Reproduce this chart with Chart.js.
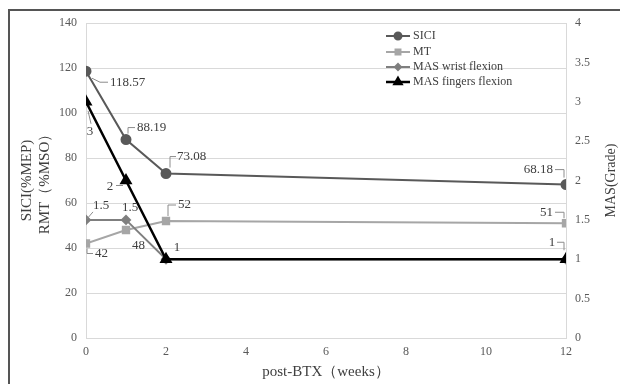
<!DOCTYPE html>
<html>
<head>
<meta charset="utf-8">
<script src="https://cdn.jsdelivr.net/npm/chart.js@4/dist/chart.umd.min.js"></script>
<style>
  html, body { margin: 0; padding: 0; background: #ffffff; }
  #wrap { position: relative; width: 620px; height: 384px; overflow: hidden; }
  #frame { position: absolute; left: 8px; top: 9px; width: 700px; height: 500px;
           border-top: 2px solid #555; border-left: 2px solid #555; }
  canvas { position: absolute; left: 0; top: 0; }
</style>
</head>
<body>
<div id="wrap">
  <div id="frame"></div>
  <canvas id="c" width="620" height="384"></canvas>
</div>
<script>
// ---- data ----
const weeks = [0, 1, 2, 12];
const seriesNames = ['SICI', 'MT', 'MAS wrist flexion', 'MAS fingers flexion'];
const sici = [118.57, 88.19, 73.08, 68.18];
const mt = [42, 48, 52, 51];
const masWrist = [1.5, 1.5, 1, 1];
const masFingers = [3, 2, 1, 1];
const xTicks = [0, 2, 4, 6, 8, 10, 12];
const leftTicks = [0, 20, 40, 60, 80, 100, 120, 140];
const rightTicks = [0, 0.5, 1, 1.5, 2, 2.5, 3, 3.5, 4];
const xTitle = 'post-BTX（weeks）';
const leftTitle = ['SICI(%MEP)', 'RMT（%MSO）'];
const rightTitle = 'MAS(Grade)';

// ---- styling ----
const FONT = "'Liberation Serif', 'Times New Roman', serif";
const colors = ['#595959', '#a6a6a6', '#7f7f7f', '#000000'];
const pointStyles = ['circle', 'rect', 'rectRot', 'triangle'];
const pointRadii = [4.5, 4.5, 4, 5];
const legendRadii = [3.5, 3.5, 3, 4];
const lineWidths = [2, 2, 2, 2.5];

// label placement per dataset / point (dx, dy of text anchor; leader path relative to point)
const labelPlacement = [
  [ {dx: 24, dy: 11, align: 'left', leader: [[6,7],[14,11],[22,11]]},
    {dx: 11, dy: -12, align: 'left', leader: [[2,-6],[2,-12],[9,-12]]},
    {dx: 11, dy: -17, align: 'left', leader: [[4,-6],[4,-17],[10,-17]]},
    {dx: -13, dy: -15, align: 'right', leader: [[-11,-15],[-2,-15],[-2,-7]]} ],
  [ {dx: 9, dy: 10, align: 'left', leader: [[1,5],[1,10],[7,10]]},
    {dx: 6, dy: 16, align: 'left', leader: null},
    {dx: 12, dy: -16, align: 'left', leader: [[2,-5],[2,-16],[10,-16]]},
    {dx: -13, dy: -11, align: 'right', leader: [[-11,-11],[-2,-11],[-2,-5]]} ],
  [ {dx: 7, dy: -14, align: 'left', leader: [[1,-1],[7,-8]]},
    {dx: -4, dy: -12, align: 'left', leader: null},
    null, null ],
  [ {dx: 4, dy: 30, align: 'center', leader: [[2,9],[5,22]]},
    {dx: -16, dy: 6, align: 'center', leader: [[-10,5],[-3,5]]},
    {dx: 11, dy: -12, align: 'center', leader: null},
    {dx: -14, dy: -17, align: 'center', leader: [[-9,-17],[-2,-17],[-2,-9]]} ]
];

const allValues = [sici, mt, masWrist, masFingers];
const axisIds = ['y', 'y', 'y1', 'y1'];
const orders = [3, 2, 1, 0];

const datasets = allValues.map((vals, i) => ({
  label: seriesNames[i],
  data: weeks.map((w, j) => ({x: w, y: vals[j]})),
  yAxisID: axisIds[i],
  borderColor: colors[i],
  backgroundColor: colors[i],
  pointBackgroundColor: colors[i],
  pointBorderColor: colors[i],
  pointStyle: pointStyles[i],
  pointRadius: pointRadii[i],
  borderWidth: lineWidths[i],
  tension: 0,
  order: orders[i]
}));

const labelsPlugin = {
  id: 'pointLabels',
  afterDatasetsDraw(chart) {
    const ctx = chart.ctx;
    ctx.save();
    ctx.font = '13px ' + FONT;
    ctx.fillStyle = '#404040';
    ctx.textBaseline = 'middle';
    chart.data.datasets.forEach((ds, di) => {
      const meta = chart.getDatasetMeta(di);
      meta.data.forEach((pt, pi) => {
        const cfg = labelPlacement[di][pi];
        if (!cfg) return;
        const text = String(allValues[di][pi]);
        if (cfg.leader) {
          ctx.beginPath();
          ctx.strokeStyle = '#8c8c8c';
          ctx.lineWidth = 1;
          cfg.leader.forEach((p, k) => {
            const X = pt.x + p[0], Y = pt.y + p[1];
            if (k === 0) ctx.moveTo(X, Y); else ctx.lineTo(X, Y);
          });
          ctx.stroke();
        }
        ctx.textAlign = cfg.align;
        ctx.fillText(text, pt.x + cfg.dx, pt.y + cfg.dy);
      });
    });
    ctx.restore();
  }
};

const extrasPlugin = {
  id: 'extras',
  afterDraw(chart) {
    const ctx = chart.ctx;
    // right axis title, reading bottom-to-top
    const ca = chart.chartArea;
    ctx.save();
    ctx.font = '14px ' + FONT;
    ctx.fillStyle = '#404040';
    ctx.textAlign = 'center';
    ctx.textBaseline = 'middle';
    ctx.translate(611, (ca.top + ca.bottom) / 2);
    ctx.rotate(-Math.PI / 2);
    ctx.fillText(rightTitle, 0, 0);
    ctx.restore();

    // legend inside the plot
    const x0 = 386, x1 = 410, tx = 413;
    const ys = [36, 52, 67, 82];
    ctx.save();
    ctx.font = '12px ' + FONT;
    ctx.textBaseline = 'middle';
    ctx.textAlign = 'left';
    chart.data.datasets.forEach((ds, i) => {
      const y = ys[i];
      ctx.strokeStyle = ds.borderColor;
      ctx.lineWidth = ds.borderWidth;
      ctx.beginPath(); ctx.moveTo(x0, y); ctx.lineTo(x1, y); ctx.stroke();
      ctx.fillStyle = ds.borderColor;
      ctx.strokeStyle = ds.borderColor;
      Chart.helpers.drawPoint(ctx, {pointStyle: ds.pointStyle, radius: legendRadii[i], borderWidth: 1, rotation: 0},
        (x0 + x1) / 2, y);
      ctx.fillStyle = '#404040';
      ctx.fillText(ds.label, tx, y);
    });
    ctx.restore();
  }
};

new Chart(document.getElementById('c'), {
  type: 'line',
  data: { datasets },
  plugins: [labelsPlugin, extrasPlugin],
  options: {
    responsive: false,
    animation: false,
    layout: { padding: { top: 23, left: 0, right: 0, bottom: 0 } },
    plugins: { legend: { display: false }, tooltip: { enabled: false } },
    scales: {
      x: {
        type: 'linear', min: 0, max: 12,
        afterBuildTicks(s) { s.ticks = xTicks.map(v => ({value: v})); },
        afterFit(s) { s.height = 46; },
        grid: { display: false, drawTicks: false },
        border: { display: true, color: '#d9d9d9' },
        ticks: { font: { size: 12, family: FONT }, color: '#595959', padding: 7, maxRotation: 0 },
        title: { display: true, text: xTitle, font: { size: 15, family: FONT }, color: '#404040',
                 padding: { top: 0, bottom: 3 } }
      },
      y: {
        type: 'linear', position: 'left', min: 0, max: 140,
        afterBuildTicks(s) { s.ticks = leftTicks.map(v => ({value: v})); },
        afterFit(s) { s.width = 86; },
        grid: { color: '#d9d9d9', drawTicks: false, lineWidth: 1 },
        border: { display: true, color: '#d9d9d9' },
        ticks: { font: { size: 12, family: FONT }, color: '#595959', padding: 9 },
        title: { display: true, text: leftTitle, font: { size: 15, family: FONT }, color: '#404040',
                 padding: { top: 18, bottom: 0 } }
      },
      y1: {
        type: 'linear', position: 'right', min: 0, max: 4,
        afterBuildTicks(s) { s.ticks = rightTicks.map(v => ({value: v})); },
        afterFit(s) { s.width = 54; },
        grid: { display: false, drawTicks: false },
        border: { display: true, color: '#d9d9d9' },
        ticks: { font: { size: 12, family: FONT }, color: '#595959', padding: 9,
                 callback: v => String(v) },
        title: { display: false }
      }
    }
  }
});
</script>
</body>
</html>
